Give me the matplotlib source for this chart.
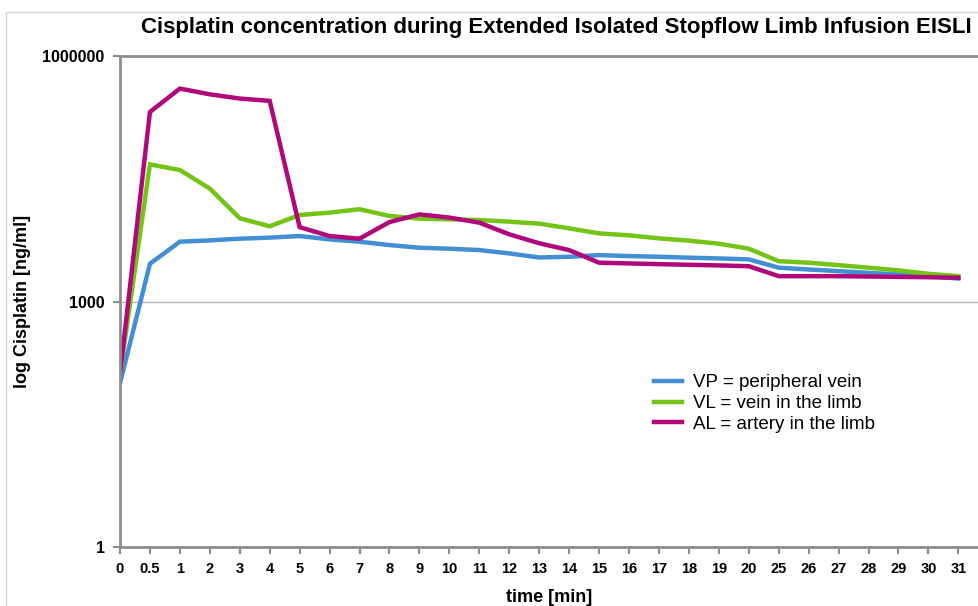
import matplotlib
matplotlib.use('Agg')
import matplotlib.pyplot as plt
import numpy as np

# Time points (categories, equally spaced on the chart)
times = ['0', '0.5', '1', '2', '3', '4', '5', '6', '7', '8', '9', '10', '11', '12', '13',
         '14', '15', '16', '17', '18', '19', '20', '25', '26', '27', '28', '29', '30', '31']

# Cisplatin [ng/ml]
VP = [100, 2890, 5380, 5580, 5860, 6030, 6310, 5740, 5380, 4890, 4540, 4420, 4250, 3870, 3450,
      3520, 3690, 3590, 3520, 3430, 3360, 3270, 2590, 2460, 2350, 2240, 2140, 2040, 1910]
VL = [130, 47400, 40400, 24000, 10400, 8300, 11400, 12200, 13400, 11100, 10300, 10100, 9900, 9450, 8940,
      7830, 6800, 6430, 5910, 5540, 5090, 4420, 3110, 2980, 2780, 2590, 2400, 2180, 2040]
AL = [130, 207000, 400000, 340000, 302000, 283000, 8100, 6310, 5860, 9350, 11600, 10600, 9200, 6620, 5150,
      4250, 2980, 2920, 2860, 2810, 2760, 2700, 2040, 2040, 2040, 2020, 2000, 1980, 1950]

labels = ['VP = peripheral vein', 'VL = vein in the limb', 'AL = artery in the limb']
colors = ['#438fd5', '#73c415', '#b0087a']

plt.rcParams['font.family'] = ['Liberation Sans', 'DejaVu Sans']

fig = plt.figure(figsize=(9.79, 6.06), dpi=100)

# light chart-area border (top and left only visible)
fig.patches.append(plt.Rectangle((6/979, -0.1), 1.2, 1.1 - 12/606, transform=fig.transFigure,
                                 fill=False, edgecolor='#d4d4d4', linewidth=1))

ax = fig.add_axes([120/979, 59/606, 859/979, 491/606])
x = np.arange(len(times))

for vals, lab, c in zip([VP, VL, AL], labels, colors):
    ax.plot(x, vals, color=c, linewidth=3.2, label=lab, solid_joinstyle='miter')

ax.set_yscale('log')
ax.set_ylim(1, 1e6)
ax.set_xlim(0, 28.69)
ax.set_yticks([1, 1000, 1000000])
ax.set_yticklabels(['1', '1000', '1000000'])
ax.yaxis.set_minor_locator(matplotlib.ticker.NullLocator())
ax.set_xticks(x)
ax.set_xticklabels(times)

ax.axhline(1000, color='#b4b4b4', linewidth=1, zorder=0)

for s in ['left', 'bottom', 'top']:
    ax.spines[s].set_color('#8c8c8c')
    ax.spines[s].set_linewidth(2)
ax.spines['right'].set_visible(False)

ax.tick_params(axis='both', direction='out', length=5, width=1.5, color='#8c8c8c')
ax.tick_params(axis='x', labelsize=10.5, pad=6)
ax.tick_params(axis='y', labelsize=11.5, pad=6)
for t in ax.get_xticklabels() + ax.get_yticklabels():
    t.set_fontweight('bold')

ax.set_xlabel('time [min]', fontsize=13, fontweight='bold', labelpad=9)
ax.set_ylabel('log Cisplatin [ng/ml]', fontsize=13, fontweight='bold', labelpad=8)

fig.text(556/979, 1 - 27/606, 'Cisplatin concentration during Extended Isolated Stopflow Limb Infusion EISLI',
         ha='center', va='center', fontsize=16, fontweight='bold')

ax.legend(loc='upper left', bbox_to_anchor=(0.622, 0.352), frameon=False, fontsize=13.5,
          handlelength=1.5, handletextpad=0.55, labelspacing=0.2, borderpad=0, borderaxespad=0)

fig.savefig('out.png', dpi=100)
